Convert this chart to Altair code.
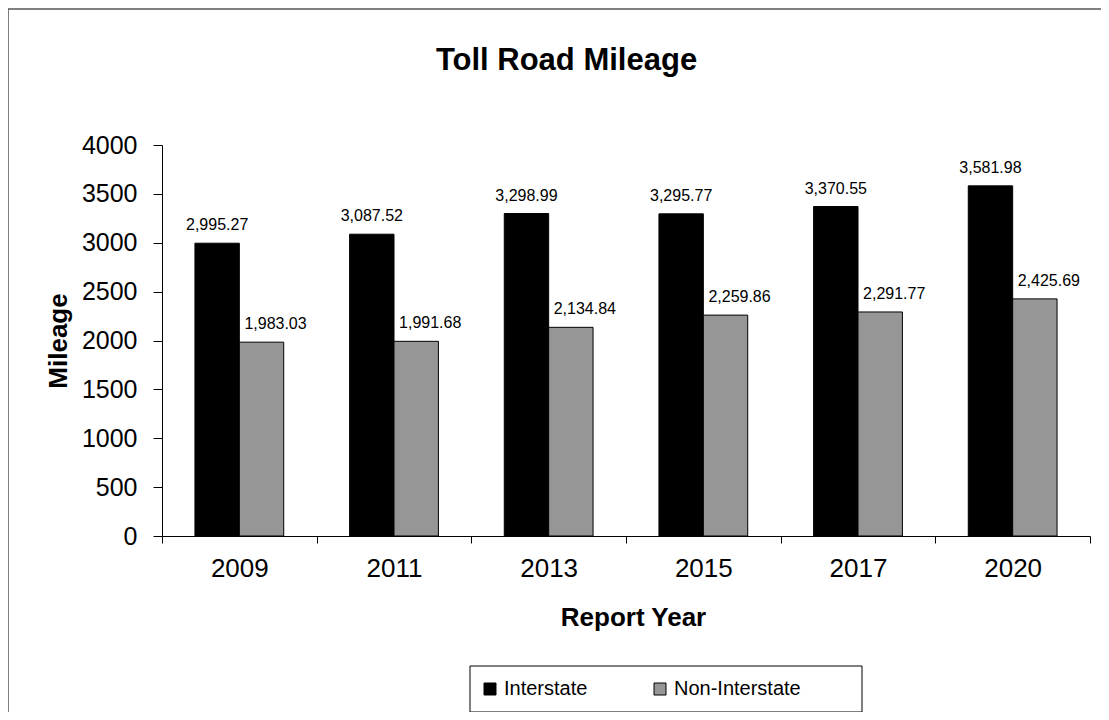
import altair as alt
import pandas as pd

# ---- data ----
years = ["2009", "2011", "2013", "2015", "2017", "2020"]
interstate = [2995.27, 3087.52, 3298.99, 3295.77, 3370.55, 3581.98]
non_interstate = [1983.03, 1991.68, 2134.84, 2259.86, 2291.77, 2425.69]
series_names = ["Interstate", "Non-Interstate"]
series_colors = ["#000000", "#969696"]
y_ticks = [0, 500, 1000, 1500, 2000, 2500, 3000, 3500, 4000]

rows = []
for yr, a, b in zip(years, interstate, non_interstate):
    rows.append({"year": yr, "series": series_names[0], "value": a})
    rows.append({"year": yr, "series": series_names[1], "value": b})
df = pd.DataFrame(rows)

FONT = "Liberation Sans"
W, H = 928, 391

x_enc = alt.X(
    "year:N",
    sort=years,
    scale=alt.Scale(paddingInner=0, paddingOuter=0),
    axis=alt.Axis(
        title="Report Year",
        labelAngle=0,
        tickBand="extent",
        tickSize=7,
        labelFontSize=26,
        labelPadding=12,
        titleFontSize=26,
        titleFontWeight="bold",
        titlePadding=23,
        titleX=471,
    ),
)
xo_enc = alt.XOffset(
    "series:N",
    sort=series_names,
    scale=alt.Scale(paddingOuter=0.742, paddingInner=0),
)
y_enc = alt.Y(
    "value:Q",
    scale=alt.Scale(domain=[0, 4000], nice=False),
    axis=alt.Axis(
        title="Mileage",
        values=y_ticks,
        format="d",
        grid=False,
        tickSize=9,
        labelFontSize=25,
        labelPadding=16,
        titleFontSize=26,
        titleFontWeight="bold",
        titlePadding=10,
    ),
)

color_enc = alt.Color(
    "series:N",
    sort=series_names,
    scale=alt.Scale(domain=series_names, range=series_colors),
    legend=alt.Legend(
        title=None,
        orient="none",
        legendX=318,
        legendY=534,
        direction="horizontal",
        symbolType="square",
        symbolSize=144,
        symbolStrokeColor="black",
        symbolStrokeWidth=1,
        labelFontSize=20,
        labelFont=FONT,
        labelColor="black",
        labelOffset=4,
        columnPadding=62,
        padding=0,
    ),
)

frame_df = pd.DataFrame({"k": [0]})

border = alt.Chart(frame_df).mark_rect(
    fillOpacity=0, stroke="#555555", strokeWidth=1.5
).encode(
    x=alt.value(-154), x2=alt.value(1200), y=alt.value(-136), y2=alt.value(800)
)

legend_box = alt.Chart(frame_df).mark_rect(
    fillOpacity=0, stroke="black", strokeWidth=1
).encode(
    x=alt.value(308), x2=alt.value(700), y=alt.value(521), y2=alt.value(567)
)

bars = alt.Chart(df).mark_bar(stroke="black", strokeWidth=1).encode(
    x=x_enc, xOffset=xo_enc, y=y_enc, color=color_enc
)

label_base = alt.Chart(df).encode(
    x=x_enc,
    xOffset=xo_enc,
    y=y_enc,
    text=alt.Text("value:Q", format=",.2f"),
)
labels_a = label_base.transform_filter(
    alt.datum.series == series_names[0]
).mark_text(baseline="alphabetic", dy=-13, fontSize=16, font=FONT, color="black")
labels_b = label_base.transform_filter(
    alt.datum.series == series_names[1]
).mark_text(baseline="alphabetic", dy=-13, dx=14, fontSize=16, font=FONT, color="black")

chart = (
    alt.layer(border, legend_box, bars, labels_a, labels_b)
    .properties(
        width=W,
        height=H,
        autosize=alt.AutoSizeParams(type="none"),
        padding={"left": 154, "top": 137, "right": 11, "bottom": 176},
        title=alt.TitleParams(
            text="Toll Road Mileage",
            fontSize=31,
            fontWeight="bold",
            font=FONT,
            color="black",
            anchor="middle",
            frame="group",
            baseline="alphabetic",
            offset=0,
            dx=-59.5,
            dy=93,
        ),
    )
    .configure(font=FONT, background="white")
    .configure_view(stroke=None)
    .configure_axis(
        domainColor="black",
        tickColor="black",
        labelColor="black",
        titleColor="black",
        labelFont=FONT,
        titleFont=FONT,
        domainWidth=1,
        tickWidth=1,
    )
)

chart.save("out.html", embed_options={"renderer": "svg", "actions": False})
